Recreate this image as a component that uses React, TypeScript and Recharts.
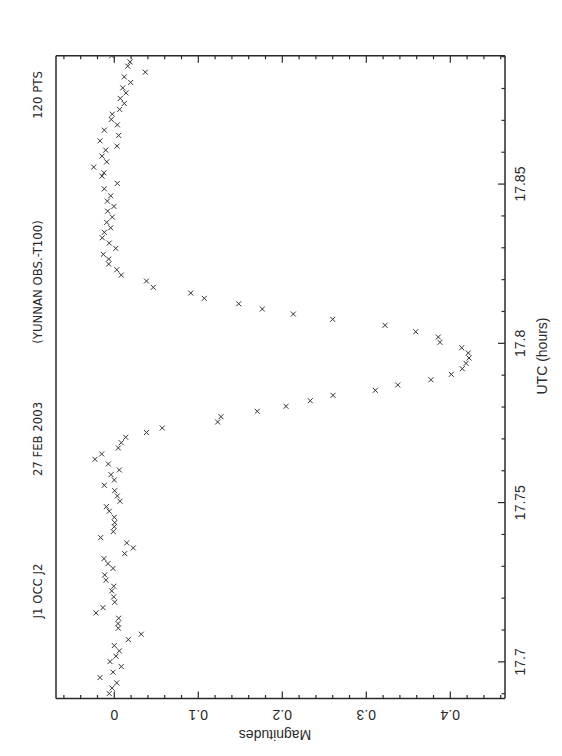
import React from 'react';
import { ScatterChart, Scatter, XAxis, YAxis } from 'recharts';

// time of each point (UTC hours) and the measured magnitude drop
const utc = [
  17.69005, 17.69175, 17.69341, 17.69507, 17.69677, 17.69853, 17.70009, 17.70179, 17.70345, 17.70511,
  17.707, 17.70869, 17.71057, 17.71202, 17.71371, 17.71537, 17.71704, 17.71873, 17.7204, 17.72228,
  17.72375, 17.72564, 17.7273, 17.72934, 17.73084, 17.73241, 17.73398, 17.73577, 17.73734, 17.739,
  17.74089, 17.74245, 17.74371, 17.7454, 17.74729, 17.74873, 17.75042, 17.75209, 17.75375, 17.75544,
  17.75711, 17.75877, 17.76024, 17.76213, 17.7636, 17.76527, 17.76715, 17.76881, 17.77051, 17.77201,
  17.77342, 17.77531, 17.77697, 17.77866, 17.78023, 17.78199, 17.78368, 17.78525, 17.78692, 17.78858,
  17.79027, 17.79203, 17.79372, 17.79539, 17.79696, 17.79862, 17.80031, 17.80198, 17.80364, 17.80565,
  17.80753, 17.80919, 17.81076, 17.81243, 17.81412, 17.81578, 17.81757, 17.81955, 17.82143, 17.8231,
  17.82488, 17.82645, 17.82793, 17.82981, 17.83147, 17.83313, 17.83483, 17.83627, 17.83797, 17.83963,
  17.84151, 17.84299, 17.84465, 17.84631, 17.84851, 17.8502, 17.85249, 17.85353, 17.85532, 17.85698,
  17.85877, 17.86065, 17.86191, 17.86357, 17.86527, 17.86693, 17.86859, 17.87029, 17.87195, 17.87342,
  17.87531, 17.87688, 17.87863, 17.8802, 17.8819, 17.88365, 17.88513, 17.88701, 17.88836, 17.89024,
];

const magnitude = [
  -0.006, -0.0027, 0.0029, -0.017, -0.0015, 0.0083, -0.0051, 0.002, 0.006, 0.0,
  0.0167, 0.0321, 0.0048, 0.0044, 0.0052, -0.0218, -0.0135, 0.0005, -0.0007, -0.0031,
  -0.0007, -0.0099, -0.0114, -0.0015, -0.0075, -0.0123, 0.0124, 0.0226, 0.0148, -0.0162,
  -0.0012, 0.0, 0.0005, 0.0, -0.006, -0.0095, 0.0068, 0.0036, 0.0005, -0.0119,
  0.0, -0.0039, 0.006, -0.0071, -0.023, -0.015, 0.0048, 0.0083, 0.0136, 0.0383,
  0.0571, 0.1231, 0.127, 0.1702, 0.2044, 0.2333, 0.2604, 0.3107, 0.3374, 0.377,
  0.4012, 0.4143, 0.4187, 0.4223, 0.4214, 0.4136, 0.3877, 0.3857, 0.3588, 0.3223,
  0.26, 0.2131, 0.1762, 0.1481, 0.1071, 0.091, 0.0464, 0.0383, 0.0083, 0.0029,
  -0.0067, -0.0067, -0.0131, 0.0017, -0.006, -0.0143, -0.0119, -0.0043, -0.009, -0.0024,
  -0.0079, -0.0004, -0.0083, -0.0043, -0.0119, 0.0036, -0.0146, -0.0123, -0.0245, -0.009,
  -0.0146, -0.0102, 0.0032, -0.017, 0.0052, -0.0119, 0.0036, -0.0036, -0.0024, 0.0064,
  0.0119, 0.0071, 0.0139, 0.01, 0.0195, 0.0119, 0.0369, 0.016, 0.0187, -0.0031,
];

const utcTicks = [
  17.69, 17.7, 17.71, 17.72, 17.73, 17.74, 17.75, 17.76, 17.77, 17.78, 17.79,
  17.8, 17.81, 17.82, 17.83, 17.84, 17.85, 17.86, 17.87, 17.88, 17.89,
];
const utcMajor = [17.7, 17.75, 17.8, 17.85];
const utcLabels = ['17.7', '17.75', '17.8', '17.85'];

const magTicks = [
  -0.06, -0.04, -0.02, 0, 0.02, 0.04, 0.06, 0.08, 0.1, 0.12, 0.14, 0.16, 0.18, 0.2,
  0.22, 0.24, 0.26, 0.28, 0.3, 0.32, 0.34, 0.36, 0.38, 0.4, 0.42, 0.44, 0.46,
];
const magMajor = [0, 0.1, 0.2, 0.3, 0.4];
const magLabels = ['0', '0.1', '0.2', '0.3', '0.4'];

const titleParts = ['J1 OCC J2', '27 FEB 2003', '(YUNNAN OBS.-T100)', '120 PTS'];

const data = utc.map((t, i) => ({ t, m: magnitude[i] }));

const INK = '#2a2a2a';
const FONT = "'Liberation Sans', Arial, sans-serif";

const majorIndex = (v: number, list: number[]) => list.findIndex((m) => Math.abs(m - v) < 1e-6);

// side: which edge of the frame the tick sits on (landscape coordinates)
const makeTick = (side: 'bottom' | 'top' | 'left' | 'right') => (props: any) => {
  const { x, y, payload } = props;
  const horiz = side === 'bottom' || side === 'top';
  const idx = majorIndex(payload.value, horiz ? utcMajor : magMajor);
  const len = idx >= 0 ? 7 : 3.5;
  let line;
  if (side === 'bottom') line = <line x1={x} x2={x} y1={y} y2={y - len} stroke={INK} strokeWidth={1.2} />;
  else if (side === 'top') line = <line x1={x} x2={x} y1={y} y2={y + len} stroke={INK} strokeWidth={1.2} />;
  else if (side === 'left') line = <line x1={x} x2={x + len} y1={y} y2={y} stroke={INK} strokeWidth={1.2} />;
  else line = <line x1={x} x2={x - len} y1={y} y2={y} stroke={INK} strokeWidth={1.2} />;
  let label = null;
  if (idx >= 0 && side === 'bottom') {
    label = (
      <text x={x} y={y + 15} textAnchor="middle" dominantBaseline="central" fill={INK} fontSize={14} fontFamily={FONT}>
        {utcLabels[idx]}
      </text>
    );
  }
  if (idx >= 0 && side === 'left') {
    label = (
      <text x={x - 16} y={y} textAnchor="middle" dominantBaseline="central" fill={INK} fontSize={14} fontFamily={FONT}
        transform={`rotate(-90, ${x - 16}, ${y})`}>
        {magLabels[idx]}
      </text>
    );
  }
  return <g>{line}{label}</g>;
};

const Cross = (props: any) => {
  const { cx, cy } = props;
  const s = 2.5;
  return (
    <path d={`M${cx - s},${cy - s}L${cx + s},${cy + s}M${cx - s},${cy + s}L${cx + s},${cy - s}`}
      stroke="#333" strokeWidth={1} fill="none" />
  );
};

const utcDomain: [number, number] = [17.6885, 17.8903];
const magDomain: [number, number] = [-0.0694, 0.4651];

const text = (s: string, left: number, top: number, extra: React.CSSProperties = {}) => (
  <div style={{ position: 'absolute', left, top, transform: 'translate(-50%, -50%)', whiteSpace: 'nowrap',
    color: INK, fontFamily: FONT, fontSize: 14, lineHeight: 1, ...extra }}>{s}</div>
);

const titleX = [165, 317, 474, 661];

export default function App() {
  return (
    <div style={{ position: 'absolute', left: 0, top: 0, width: 562, height: 756, overflow: 'hidden', background: '#fff' }}>
      <div style={{ position: 'absolute', left: 0, top: 0, width: 756, height: 562,
        transform: 'translate(0px, 756px) rotate(-90deg)', transformOrigin: '0 0' }}>
        <ScatterChart width={756} height={562} margin={{ top: 46, right: 45.7, bottom: 27, left: 17.5 }}>
          <XAxis xAxisId="b" dataKey="t" type="number" domain={utcDomain} ticks={utcTicks} interval={0}
            orientation="bottom" height={30} tickSize={0} tickMargin={0} tickLine={false}
            axisLine={{ stroke: INK, strokeWidth: 1.5 }} tick={makeTick('bottom')} allowDataOverflow />
          <XAxis xAxisId="t" type="number" domain={utcDomain} ticks={utcTicks} interval={0}
            orientation="top" height={10} tickSize={0} tickMargin={0} tickLine={false}
            axisLine={{ stroke: INK, strokeWidth: 1.5 }} tick={makeTick('top')} allowDataOverflow />
          <YAxis yAxisId="l" dataKey="m" type="number" domain={magDomain} ticks={magTicks} interval={0} reversed
            orientation="left" width={40} tickSize={0} tickMargin={0} tickLine={false}
            axisLine={{ stroke: INK, strokeWidth: 1.5 }} tick={makeTick('left')} allowDataOverflow />
          <YAxis yAxisId="r" type="number" domain={magDomain} ticks={magTicks} interval={0} reversed
            orientation="right" width={10} tickSize={0} tickMargin={0} tickLine={false}
            axisLine={{ stroke: INK, strokeWidth: 1.5 }} tick={makeTick('right')} allowDataOverflow />
          <Scatter data={data} xAxisId="b" yAxisId="l" shape={<Cross />} isAnimationActive={false} />
        </ScatterChart>
        {titleParts.map((s, i) =>
          text(s, titleX[i], 37, { fontFamily: "'Liberation Sans Narrow', 'DejaVu Sans Condensed', sans-serif", fontSize: 13 })
        )}
        {text('UTC (hours)', 400, 542)}
        {text('Magnitudes', 21, 275, { transform: 'translate(-50%, -50%) rotate(-90deg)' })}
      </div>
    </div>
  );
}
